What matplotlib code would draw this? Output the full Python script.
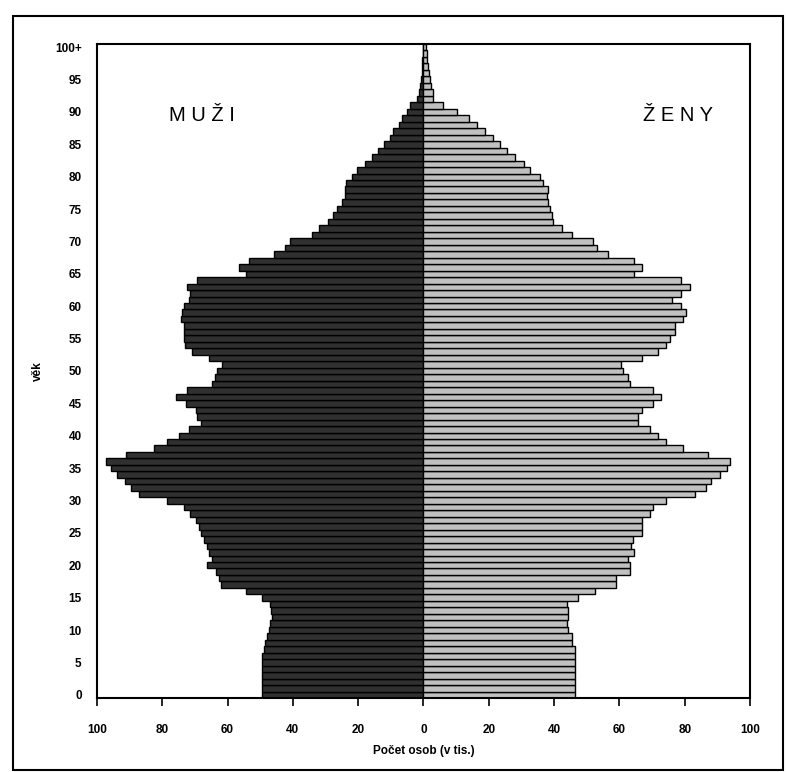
import numpy as np
import matplotlib
matplotlib.use("Agg")
import matplotlib.pyplot as plt
from matplotlib.patches import Rectangle

# age groups 0..100+ (row for 100 is "100+")
ages = list(range(0, 101))

# population in thousands (age 0 first)
men = [
    49.6, 49.6, 49.6, 49.6, 49.6, 49.5, 49.4, 48.9, 48.4, 47.9,   # 0-9
    47.4, 46.9, 46.4, 46.6, 46.9, 49.4, 54.5, 61.9, 62.7, 63.7,   # 10-19
    66.3, 64.9, 65.7, 66.3, 67.3, 68.3, 68.8, 69.8, 71.4, 73.4,   # 20-29
    78.5, 87.2, 89.7, 91.4, 93.8, 95.8, 97.3, 91.2, 82.6, 78.5,   # 30-39
    74.9, 71.9, 68.3, 69.3, 69.8, 72.6, 75.9, 72.4, 64.7, 64.0,   # 40-49
    63.2, 61.7, 65.7, 70.9, 72.9, 73.4, 73.4, 73.4, 74.4, 73.9,   # 50-59
    73.4, 71.9, 71.4, 72.4, 69.3, 54.5, 56.4, 53.5, 45.9, 42.5,   # 60-69
    41.0, 34.1, 32.1, 29.2, 27.7, 26.6, 25.1, 24.1, 23.9, 23.6,   # 70-79
    22.0, 20.5, 17.9, 15.8, 13.8, 12.2, 10.2, 9.2, 7.6, 6.6,      # 80-89
    5.1, 4.1, 2.0, 1.3, 1.0, 0.8, 0.6, 0.5, 0.4, 0.3,             # 90-99
    0.3,                                                          # 100+
]
women = [
    46.3, 46.3, 46.3, 46.3, 46.3, 46.3, 46.4, 46.4, 45.6, 45.4,   # 0-9
    44.3, 43.8, 44.3, 44.3, 43.8, 47.4, 52.5, 59.1, 59.1, 63.2,   # 10-19
    63.2, 62.7, 64.5, 63.7, 64.2, 66.8, 66.8, 66.8, 69.3, 70.3,   # 20-29
    74.4, 83.1, 86.6, 88.1, 90.7, 93.1, 93.8, 87.2, 79.5, 74.4,   # 30-39
    71.9, 69.3, 65.7, 65.7, 66.8, 70.3, 72.7, 70.3, 63.2, 62.5,   # 40-49
    61.2, 60.6, 66.8, 71.9, 74.4, 75.4, 77.0, 77.0, 79.5, 80.5,   # 50-59
    78.8, 76.1, 78.8, 81.6, 79.0, 64.5, 66.8, 64.5, 56.6, 53.0,   # 60-69
    52.0, 45.4, 42.3, 39.8, 39.3, 38.7, 38.2, 37.7, 38.2, 36.7,   # 70-79
    35.7, 32.6, 30.9, 28.0, 25.5, 23.4, 21.4, 18.9, 16.3, 13.8,   # 80-89
    10.2, 6.1, 3.0, 2.8, 2.3, 2.0, 1.8, 1.5, 1.2, 1.0,            # 90-99
    0.8,                                                          # 100+
]

ytick_ages = list(range(0, 101, 5))
ytick_labels = [str(a) for a in range(0, 100, 5)] + ["100+"]
xticks = [-100, -80, -60, -40, -20, 0, 20, 40, 60, 80, 100]

W, H = 786, 772
fig = plt.figure(figsize=(W / 100, H / 100), dpi=100)
ax = fig.add_axes([97 / W, 1 - 698 / H, (750 - 97) / W, (698 - 44) / H])

ax.barh(ages, [-v for v in men], height=1.0, color="#303030",
        edgecolor="black", linewidth=1.0)
ax.barh(ages, women, height=1.0, color="#c0c0c0",
        edgecolor="black", linewidth=1.0)

ax.set_xlim(-100, 100)
ax.set_ylim(-0.5, 100.5)
ax.set_xticks(xticks)
ax.set_xticklabels([str(abs(t)) for t in xticks])
ax.set_yticks(ytick_ages)
ax.set_yticklabels(ytick_labels)

tick_font = dict(family="Liberation Sans", weight="bold", size=8.5)
for lab in ax.get_xticklabels() + ax.get_yticklabels():
    lab.set_fontproperties(matplotlib.font_manager.FontProperties(**tick_font))

ax.tick_params(axis="x", direction="out", length=6, width=1.2, pad=13)
ax.tick_params(axis="y", length=0, pad=11)
for sp in ax.spines.values():
    sp.set_linewidth(1.5)

ax.set_xlabel("Počet osob (v tis.)", family="Liberation Sans",
              weight="bold", size=8.5, labelpad=6)
ax.set_ylabel("věk", family="Liberation Sans", weight="bold",
              size=8.5, labelpad=8)

ax.text(-78, 89.5, "M U Ž I", family="Liberation Sans", size=14.5,
        ha="left", va="center")
ax.text(88.7, 89.5, "Ž E N Y", family="Liberation Sans", size=14.5,
        ha="right", va="center")

# outer chart border
fig.add_artist(Rectangle((13 / W, 1 - 770 / H), (783 - 13) / W,
                         (770 - 16) / H, transform=fig.transFigure,
                         fill=False, edgecolor="black", linewidth=1.5))

fig.savefig("out.png", dpi=100)
